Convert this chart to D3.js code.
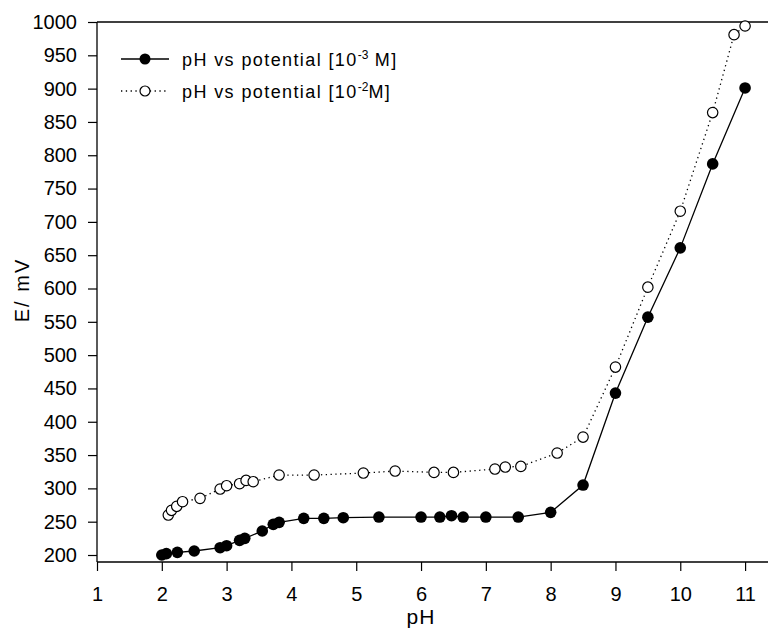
<!DOCTYPE html>
<html><head><meta charset="utf-8">
<script src="https://cdn.jsdelivr.net/npm/d3@7"></script>
<style>body{margin:0;background:#fff}svg{display:block}text{font-family:"Liberation Sans",Arial,sans-serif}</style>
</head><body>
<script>
const phA = [2.0,2.07,2.24,2.5,2.9,3.0,3.2,3.28,3.55,3.72,3.81,4.19,4.5,4.8,5.35,6.0,6.29,6.47,6.65,7.0,7.5,8.0,8.5,9.0,9.5,10.0,10.5,11.0];
const eA  = [200,202,204,206,211,214,222,225,236,246,249,255,255,256,257,257,257,259,257,257,257,264,305,443,557,661,787,901];
const phB = [2.1,2.15,2.23,2.32,2.59,2.9,3.0,3.2,3.3,3.41,3.81,4.35,5.11,5.6,6.2,6.5,7.14,7.3,7.54,8.1,8.5,9.0,9.5,10.0,10.5,10.83,11.0];
const eB  = [260,267,273,280,285,299,304,307,312,310,320,320,323,326,324,324,329,332,333,353,377,482,602,716,864,981,994];
const xTicks = [1,2,3,4,5,6,7,8,9,10,11];
const yTicks = [200,250,300,350,400,450,500,550,600,650,700,750,800,850,900,950,1000];
const legendLabels = [["pH vs potential [10","-3"," M]"],["pH vs potential [10","-2","M]"]];

const W=768,H=630;
const svg=d3.select("body").append("svg").attr("width",W).attr("height",H);
const x=d3.scaleLinear().domain([1,11.4]).range([97,771]);
const y=d3.scaleLinear().domain([189.5,1000]).range([562,22]);

// axes
const gx=svg.append("g").attr("transform","translate(0,562)")
  .call(d3.axisBottom(x).tickValues(xTicks).tickSize(9).tickPadding(16).tickFormat(d3.format("d")));
const gy=svg.append("g").attr("transform","translate(97,0)")
  .call(d3.axisLeft(y).tickValues(yTicks).tickSize(9).tickPadding(11).tickFormat(d3.format("d")));
[gx,gy].forEach(g=>{g.select(".domain").attr("stroke","#000").attr("stroke-width",1.3);
  g.selectAll(".tick line").attr("stroke","#000").attr("stroke-width",1.2);
  g.selectAll("text").attr("font-size",20).attr("fill","#000").attr("font-family","'Liberation Sans',Arial,sans-serif");});
gy.select(".domain").attr("d","M0,22V562");
gx.select(".domain").attr("d","M97,0H771");
// top frame
svg.append("line").attr("x1",x(1)).attr("x2",x(11.4)).attr("y1",y(1000)).attr("y2",y(1000)).attr("stroke","#000").attr("stroke-width",1.3);

// titles
svg.append("text").attr("x",x(6)).attr("y",624).attr("text-anchor","middle").attr("font-size",21).attr("letter-spacing",1.2).text("pH");
svg.append("text").attr("transform","translate(29,290) rotate(-90)").attr("text-anchor","middle").attr("font-size",20).attr("letter-spacing",2).text("E/ mV");

const line=d3.line().x(d=>x(d[0])).y(d=>y(d[1]));
const dA=phA.map((p,i)=>[p,eA[i]]), dB=phB.map((p,i)=>[p,eB[i]]);
svg.append("path").datum(dB).attr("d",line).attr("fill","none").attr("stroke","#000").attr("stroke-width",1.3).attr("stroke-dasharray","1.3,3.5");
svg.append("path").datum(dA).attr("d",line).attr("fill","none").attr("stroke","#000").attr("stroke-width",1.3);
svg.append("g").selectAll("circle").data(dB).join("circle").attr("cx",d=>x(d[0])).attr("cy",d=>y(d[1])).attr("r",5.2).attr("fill","#fff").attr("stroke","#000").attr("stroke-width",1.2);
svg.append("g").selectAll("circle").data(dA).join("circle").attr("cx",d=>x(d[0])).attr("cy",d=>y(d[1])).attr("r",5.8).attr("fill","#000");

// legend
const lg=svg.append("g");
[0,1].forEach(i=>{
  const ly=59+i*32;
  lg.append("line").attr("x1",121).attr("x2",169).attr("y1",ly).attr("y2",ly).attr("stroke","#000").attr("stroke-width",1.3)
    .attr("stroke-dasharray",i?"1.3,3.5":null);
  lg.append("circle").attr("cx",145).attr("cy",ly).attr("r",i?5:5.5).attr("fill",i?"#fff":"#000").attr("stroke","#000").attr("stroke-width",i?1.2:0);
  const t=lg.append("text").attr("x",182).attr("y",ly+7).attr("font-size",18).attr("letter-spacing",1.4);
  t.append("tspan").text(legendLabels[i][0]);
  t.append("tspan").attr("dy",-7).attr("font-size",12).attr("letter-spacing",0).text(legendLabels[i][1]);
  t.append("tspan").attr("dy",7).attr("font-size",18).text(legendLabels[i][2]);
});
</script>
</body></html>
